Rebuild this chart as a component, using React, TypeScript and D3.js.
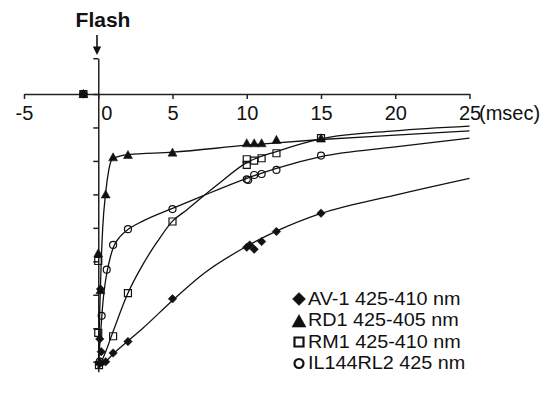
import React, { useRef, useEffect } from "react";
import * as d3 from "d3";

// marker data (time in msec, response in tick units below the x axis)
const av1T = [-1, 0.1, 0.1, 0.15, 0.2, 0.5, 1, 2, 5, 10, 10.2, 10.5, 11, 12, 15];
const av1V = [0, -8.05, -7.32, -5.83, -7.7, -8.0, -7.74, -7.4, -6.12, -4.58, -4.51, -4.64, -4.41, -4.11, -3.56];

const rd1T = [-1, 0, 0.15, 0.1, 0.5, 1, 2, 5, 10, 10.5, 11, 12, 15];
const rd1V = [0, -4.76, -5.86, -8.0, -3.0, -1.89, -1.82, -1.75, -1.47, -1.47, -1.47, -1.37, -1.32];

const rm1T = [-1, 0, 0, 0.05, 1, 2, 5, 10, 10, 10.5, 11, 12, 15];
const rm1V = [0, -4.99, -7.14, -8.1, -7.24, -5.95, -3.81, -1.95, -2.12, -1.99, -1.92, -1.77, -1.32];

const ilT = [-1, 0.1, 0.23, 0.57, 1, 2, 5, 10, 10.1, 10.5, 11, 12, 15];
const ilV = [0, -8.0, -6.63, -5.25, -4.51, -4.04, -3.44, -2.55, -2.57, -2.42, -2.39, -2.27, -1.84];

// fitted curves
const av1FitT = [0, 0.5, 1, 2, 3, 5, 7, 10, 12, 15, 20, 25];
const av1FitV = [-8.2, -8.0, -7.77, -7.38, -7.0, -6.17, -5.4, -4.55, -4.1, -3.57, -3.02, -2.52];

const rd1FitT = [0, 0.1, 0.2, 0.3, 0.5, 0.7, 0.85, 1, 1.5, 2, 5, 10, 15, 20, 25];
const rd1FitV = [-8.2, -6.5, -5.0, -4.0, -2.95, -2.3, -2.02, -1.93, -1.85, -1.81, -1.74, -1.53, -1.36, -1.23, -1.1];

const rm1FitT = [0, 0.5, 1, 2, 3, 4, 5, 6, 7, 8, 10, 12, 15, 20, 25];
const rm1FitV = [-8.2, -7.7, -7.1, -5.95, -5.1, -4.4, -3.8, -3.45, -3.08, -2.72, -2.05, -1.72, -1.34, -1.1, -0.96];

const ilFitT = [0, 0.1, 0.2, 0.3, 0.45, 0.6, 0.8, 1, 1.5, 2, 3, 5, 7, 10, 12, 15, 20, 25];
const ilFitV = [-8.2, -7.5, -6.9, -6.3, -5.7, -5.3, -4.9, -4.6, -4.25, -4.05, -3.8, -3.42, -3.05, -2.52, -2.22, -1.87, -1.58, -1.32];

const xTicks = [-5, 0, 5, 10, 15, 20, 25];
const yTicks = [-8, -7, -6, -5, -4, -3, -2, -1, 0, 1.07];

const legendLabels = ["AV-1 425-410 nm", "RD1 425-405 nm", "RM1 425-410 nm", "IL144RL2 425 nm"];

const FONT = "'Liberation Sans', Arial, Helvetica, sans-serif";

const markerPath = (kind: string, s: number) => {
  const h = s / 2;
  if (kind === "diamond") return `M0,${-h}L${h},0L0,${h}L${-h},0Z`;
  if (kind === "triangle") return `M0,${-h}L${h},${h * 0.8}L${-h},${h * 0.8}Z`;
  if (kind === "square") return `M${-h},${-h}H${h}V${h}H${-h}Z`;
  return d3.arc()({ innerRadius: 0, outerRadius: h, startAngle: 0, endAngle: 2 * Math.PI }) as string;
};

const App = () => {
  const ref = useRef<SVGSVGElement>(null);

  useEffect(() => {
    const svg = d3.select(ref.current);
    svg.selectAll("*").remove();

    const x = d3.scaleLinear().domain([-5, 25]).range([24, 469.5]);
    const y = d3.scaleLinear().domain([0, -8]).range([94, 361.7]);

    // x axis
    const gx = svg.append("g").attr("transform", "translate(0,94)");
    gx.call(
      d3.axisBottom(x).tickValues(xTicks).tickSize(5).tickSizeOuter(0).tickFormat((d) => String(d))
    );
    gx.select(".domain").attr("stroke", "#222").attr("stroke-width", 1.5);
    gx.selectAll(".tick line").attr("stroke", "#222").attr("stroke-width", 1.5);
    gx.selectAll(".tick text")
      .attr("y", 12)
      .attr("dx", (d) => (d === 0 ? 8 : 0))
      .attr("font-family", FONT)
      .attr("font-size", 20)
      .attr("fill", "#111");

    svg.append("text")
      .attr("x", 479)
      .attr("y", 120)
      .attr("font-family", FONT)
      .attr("font-size", 20)
      .attr("fill", "#111")
      .text("(msec)");

    // y axis
    const gy = svg.append("g").attr("transform", `translate(${x(0)},0)`);
    const yAxisScale = y.copy().domain([1.07, -8.3]).range([y(1.07), y(-8.3)]);
    gy.call(d3.axisLeft(yAxisScale).tickValues(yTicks).tickSize(5).tickSizeOuter(0).tickFormat(() => ""));
    gy.select(".domain").attr("stroke", "#222").attr("stroke-width", 1.5);
    gy.selectAll(".tick line").attr("stroke", "#222").attr("stroke-width", 1.5);

    // flash marker
    svg.append("text")
      .attr("x", 103)
      .attr("y", 27.3)
      .attr("text-anchor", "middle")
      .attr("font-family", FONT)
      .attr("font-weight", "bold")
      .attr("font-size", 21)
      .attr("fill", "#111")
      .text("Flash");
    svg.append("line")
      .attr("x1", 97).attr("x2", 97).attr("y1", 35).attr("y2", 48)
      .attr("stroke", "#111").attr("stroke-width", 1.6);
    svg.append("path").attr("d", "M92.8,46.5L101.2,46.5L97,55Z").attr("fill", "#111");

    const series = [
      { kind: "diamond", t: av1T, v: av1V, ft: av1FitT, fv: av1FitV, filled: true, size: 8.5 },
      { kind: "triangle", t: rd1T, v: rd1V, ft: rd1FitT, fv: rd1FitV, filled: true, size: 9 },
      { kind: "square", t: rm1T, v: rm1V, ft: rm1FitT, fv: rm1FitV, filled: false, size: 7 },
      { kind: "circle", t: ilT, v: ilV, ft: ilFitT, fv: ilFitV, filled: false, size: 7 },
    ];

    const line = d3
      .line<[number, number]>()
      .x((d) => x(d[0]))
      .y((d) => y(d[1]))
      .curve(d3.curveMonotoneX);

    series.forEach((s) => {
      svg.append("path")
        .datum(s.ft.map((t, i) => [t, s.fv[i]] as [number, number]))
        .attr("fill", "none")
        .attr("stroke", "#111")
        .attr("stroke-width", 1.3)
        .attr("d", line);
    });

    series.forEach((s) => {
      svg.append("g")
        .selectAll("path")
        .data(s.t.map((t, i) => [t, s.v[i]]))
        .join("path")
        .attr("transform", (d) => `translate(${x(d[0])},${y(d[1])})`)
        .attr("d", markerPath(s.kind, s.size))
        .attr("fill", s.filled ? "#111" : "none")
        .attr("stroke", "#111")
        .attr("stroke-width", s.filled ? 0.5 : 1.2);
    });

    // legend
    const leg = svg.append("g").attr("transform", "translate(299,299)");
    const legSize = [13, 14, 11, 11];
    legendLabels.forEach((label, i) => {
      const s = series[i];
      const row = leg.append("g").attr("transform", `translate(0,${i * 21.5})`);
      row.append("path")
        .attr("transform", s.kind === "triangle" ? "translate(0,1)" : null)
        .attr("d", markerPath(s.kind, legSize[i] - (s.filled ? 0 : 2)))
        .attr("fill", s.filled ? "#111" : "none")
        .attr("stroke", "#111")
        .attr("stroke-width", s.filled ? 0.5 : 2.2);
      row.append("text")
        .attr("transform", "translate(9,5.5) scale(1.1,1)")
        .attr("font-family", FONT)
        .attr("font-size", 18)
        .attr("fill", "#111")
        .text(label);
    });
  }, []);

  return (
    <svg
      ref={ref}
      width={552}
      height={397}
      style={{ position: "absolute", left: 0, top: 0, background: "#fff" }}
    />
  );
};

export default App;
